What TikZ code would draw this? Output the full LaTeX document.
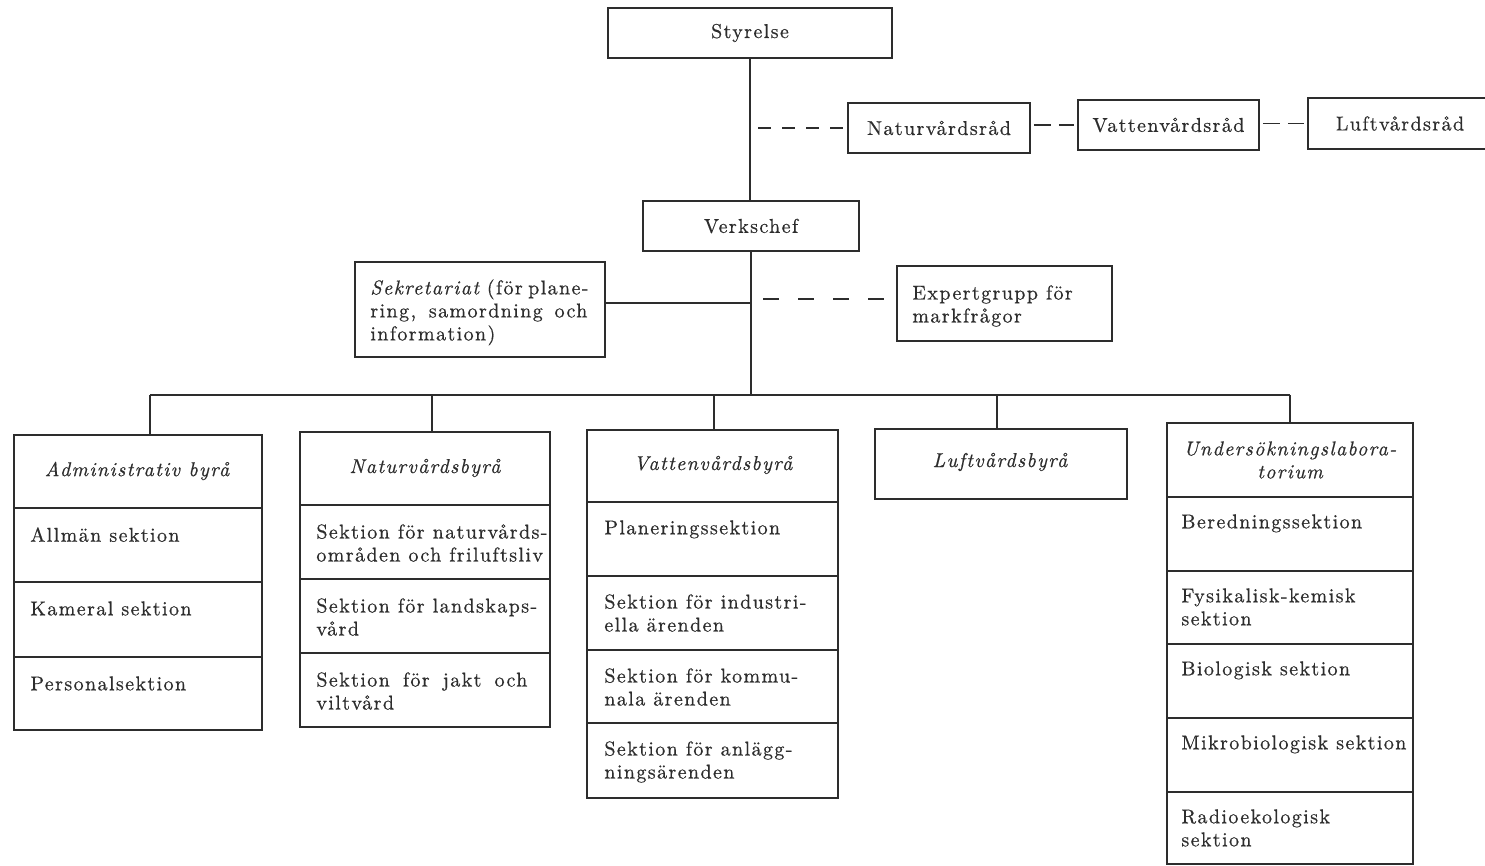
\documentclass[tikz,border=0pt]{standalone}
\usepackage{fontspec}
\setmainfont{lmroman10-regular.otf}[ItalicFont=lmroman10-italic.otf, LetterSpace=7, FakeBold=0.6]
\definecolor{ink}{RGB}{45,45,45}
\begin{document}
\begin{tikzpicture}[x=0.5pt,y=-0.5pt,
  font=\fontsize{10}{11.5}\selectfont, text=ink,
  box/.style={draw=ink, line width=0.9pt, inner sep=0pt},
  txt/.style={inner sep=0pt, anchor=north west, align=left},
  hd/.style={inner sep=0pt, align=center, font=\fontsize{10}{11.5}\selectfont\itshape},
  link/.style={draw=ink, line width=0.9pt},
  dash1/.style={link, dash pattern=on 6.5pt off 5.5pt},
  dash2/.style={link, dash pattern=on 8.5pt off 4pt}]
\useasboundingbox (0,0) rectangle (1485,866);

% top level
\node[box, minimum width=142pt, minimum height=25pt] (sty) at (750,33) {Styrelse};
\node[box, minimum width=108pt, minimum height=25pt] (vch) at (751,226) {Verkschef};
\node[box, minimum width=91pt, minimum height=25pt] (nat) at (939,128) {Naturvårdsråd};
\node[box, minimum width=90.5pt, minimum height=25pt] (vat) at (1168.5,125) {Vattenvårdsråd};
\node[box, minimum width=92pt, minimum height=25.5pt] (luf) at (1400,123.5) {Luftvårdsråd};

\draw[link] (sty.south) -- (sty.south |- vch.north);
\coordinate (tr1) at (751,128);
\draw[dash1] ([xshift=3.5pt]tr1) -- ([xshift=-1.5pt]nat.west);
\draw[dash2] ([xshift=1.5pt]nat.east |- vat.west) -- ([xshift=-1.5pt]vat.west);
\draw[dash2] ([xshift=1.5pt]vat.east |- luf.west) -- ([xshift=-1.5pt]luf.west);

% staff
\node[box, minimum width=125pt, minimum height=47.5pt] (sek) at (480,309.5) {};
\node[txt] (sekt) at (370,279) {\makebox[108.5pt][s]{\itshape Sekretariat\/ \upshape(för plane-}\\\makebox[108.5pt][s]{ring, samordning och}\\information)};
\node[box, minimum width=107.5pt, minimum height=37.5pt] (exp) at (1004.5,303.5) {};
\node[txt] (expt) at (912,285) {Expertgrupp för\\markfrågor};

\coordinate (tr2) at (751,303);
\coordinate (tr3) at (751,299);
\draw[link] (sek.east |- tr2) -- (tr2);
\draw[link, dash pattern=on 8pt off 9.5pt] ([xshift=6pt]tr3) -- ([xshift=-5pt]exp.west |- tr3);

% bus
\coordinate (bus) at (751,395);
\draw[link] (vch.south) -- (vch.south |- bus);
\coordinate (d1) at (150,395);
\coordinate (d2) at (432,395);
\coordinate (d3) at (714,395);
\coordinate (d4) at (997,395);
\coordinate (d5) at (1290,395);
\draw[link] (d1) -- (d5);

% bureau boxes
\node[box, minimum width=124pt, minimum height=147.5pt] (b1) at (138,582.5) {};
\node[box, minimum width=125pt, minimum height=147.5pt] (b2) at (425,579.5) {};
\node[box, minimum width=125.5pt, minimum height=184pt] (b3) at (712.5,614) {};
\node[box, minimum width=126pt, minimum height=35pt] (b4) at (1001,464) {};
\node[box, minimum width=123pt, minimum height=220.5pt] (b5) at (1290,643.5) {};

\foreach \d/\b in {d1/b1,d2/b2,d3/b3,d4/b4,d5/b5}
  \draw[link] (\d) -- (\d |- \b.north);

% dividers
\foreach \y in {508,582,657} \draw[link] (b1.west |- 0,\y) -- (b1.east |- 0,\y);
\foreach \y in {505,579,653} \draw[link] (b2.west |- 0,\y) -- (b2.east |- 0,\y);
\foreach \y in {502,576,650,723} \draw[link] (b3.west |- 0,\y) -- (b3.east |- 0,\y);
\foreach \y in {497,571,644,718,792} \draw[link] (b5.west |- 0,\y) -- (b5.east |- 0,\y);

% headers
\node[hd] (h1) at (137,471) {Administrativ byrå};
\node[hd] (h2) at (425,468) {Naturvårdsbyrå};
\node[hd] (h3) at (713,465) {Vattenvårdsbyrå};
\node[hd] (h4) at (1000,462) {Luftvårdsbyrå};
\node[hd] (h5) at (1290,460) {Undersökningslabora-\\torium};

% sections
\node[txt] (s11) at (30,527) {Allmän sektion};
\node[txt] (s12) at (30,601) {Kameral sektion};
\node[txt] (s13) at (30,676) {Personalsektion};

\node[txt] (s21) at (316,524) {Sektion för naturvårds-\\områden och friluftsliv};
\node[txt] (s22) at (316,598) {Sektion för landskaps-\\vård};
\node[txt] (s23) at (316,672) {\makebox[105.5pt][s]{Sektion för jakt och}\\viltvård};

\node[txt] (s31) at (604,520) {Planeringssektion};
\node[txt] (s32) at (604,594) {Sektion för industri-\\ella ärenden};
\node[txt] (s33) at (604,668) {Sektion för kommu-\\nala ärenden};
\node[txt] (s34) at (604,741) {Sektion för anlägg-\\ningsärenden};

\node[txt] (s51) at (1181,514) {Beredningssektion};
\node[txt] (s52) at (1181,588) {Fysikalisk-kemisk\\sektion};
\node[txt] (s53) at (1181,661) {Biologisk sektion};
\node[txt] (s54) at (1181,735) {Mikrobiologisk sektion};
\node[txt] (s55) at (1181,809) {Radioekologisk\\sektion};
\end{tikzpicture}
\end{document}
